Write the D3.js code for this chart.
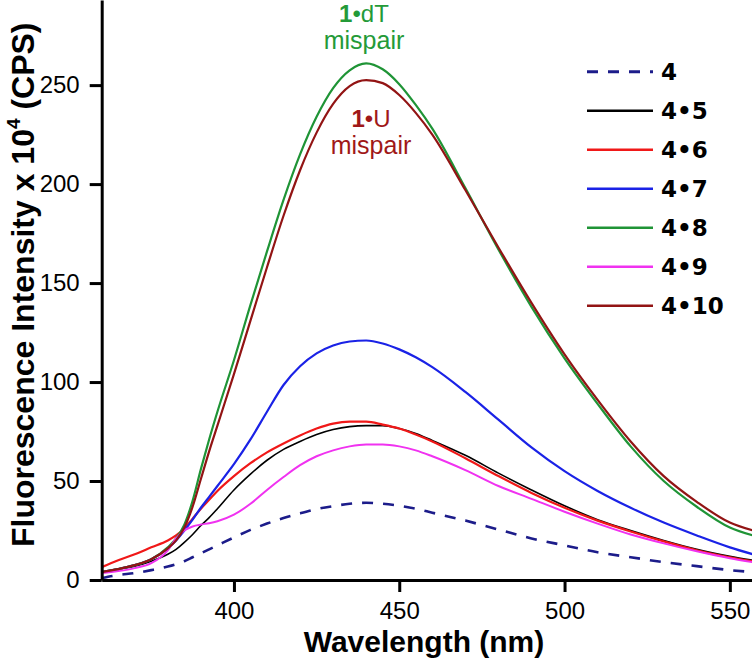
<!DOCTYPE html>
<html><head><meta charset="utf-8">
<script src="https://cdn.jsdelivr.net/npm/d3@7"></script>
<style>body{margin:0;background:#fff} svg{display:block}</style>
</head><body>
<svg id="c" width="752" height="659"></svg>
<script>
// ---- data ----
const wavelengths = [360,365,370,375,380,382.5,385,387.5,390,392.5,395,400,405,410,415,420,425,430,435,440,445,450,455,460,470,480,490,500,510,520,530,540,550,557];
const s4   = [1,2.5,3.5,5,6.8,8,9.5,11.5,13.5,15.5,17.5,21.5,25.3,28.5,31.3,33.7,35.8,37.3,38.5,39,38.5,37.5,36,34,30,25.5,21,17.5,14,11.5,9,7,5,4];
const s4_5 = [4,5.5,7,9.5,13,15.5,19,23,27.5,31.5,36,45.5,53.5,60.5,66,70,73.5,76,77.5,78,78,76.5,74,70.5,63,54,45.5,37.5,30.5,25,20,15.5,12,10];
const s4_6 = [6.5,10,13,16.5,20,22.5,26,31,36,40.5,45,52.5,59,64.5,69,73,76.5,79,80,80,78.5,76.5,73.5,70,61.5,52.5,44,36.5,30,24.5,19.5,15,11.5,9.5];
const s4_7 = [4,5.5,7.5,10.5,16,20,25,30.5,36.5,42,47.5,58.5,71,85,98.5,108,114.5,118.5,120.5,121,119.5,116.5,112.5,107.5,95,81,67,55,45,36.5,29,22.5,16.5,13];
const s4_8 = [4,5.5,7.5,10.5,16.5,21,28,40,56,71,85,111,139,166,192,215,234,248.5,257.5,261,258,250.5,240,228,198,167,138,112,89,67.5,50,37,26.5,22.5];
const s4_9 = [3.5,4.5,6,8.5,15,21,25,27,28,28.7,29.7,33,38.5,45.5,52,58,62.5,65.5,67.5,68.5,68.5,67.5,65.5,62.5,55.5,47.5,41,34.5,28.5,23,18.5,14.5,11,9];
const s4_10= [4,5.5,7.5,10.5,16,20,26.5,37,51,65,78,104,131,158,184,207,226,240.5,249.5,252.5,251,245,236,225,197,168,140,114,91,70,52.5,39.5,29,25];
const seriesNames = ["4","4•5","4•6","4•7","4•8","4•9","4•10"];
const seriesValues = [s4,s4_5,s4_6,s4_7,s4_8,s4_9,s4_10];
const xTicks = [400,450,500,550];
const yTicks = [0,50,100,150,200,250];
const xTitle = "Wavelength (nm)";

// ---- styles ----
const colors = ["#1c1c8a","#000000","#f01818","#1a22e6","#1f9436","#f032f0","#921414"];
const dashes = ["11,10",null,null,null,null,null,null];
const widths = [2.6,1.6,2.2,2.2,2.2,2,2.2];

const svg = d3.select("#c");
const x = d3.scaleLinear().domain([360,556.7]).range([101.7,752]);
const y = d3.scaleLinear().domain([0,293]).range([580,0]);

svg.append("defs").append("clipPath").attr("id","clip")
  .append("rect").attr("x",x(360)).attr("y",0).attr("width",752-x(360)).attr("height",y(0));

const line = d3.line().x(d=>x(d[0])).y(d=>y(d[1])).curve(d3.curveMonotoneX);
const g = svg.append("g").attr("clip-path","url(#clip)");
seriesValues.forEach((vals,i)=>{
  g.append("path").datum(wavelengths.map((w,j)=>[w,vals[j]]))
    .attr("d",line).attr("fill","none").attr("stroke",colors[i])
    .attr("stroke-width",widths[i]).attr("stroke-dasharray",dashes[i])
    .attr("stroke-linejoin","round");
});

// axes
const font = "'Liberation Sans', Arial, sans-serif";
const xa = svg.append("g").attr("transform",`translate(0,${y(0)})`)
  .call(d3.axisBottom(x).tickValues(xTicks).tickSize(12).tickSizeOuter(0).tickPadding(10));
const ya = svg.append("g").attr("transform",`translate(${x(360)},0)`)
  .call(d3.axisLeft(y).tickValues(yTicks).tickSize(12).tickSizeOuter(0).tickPadding(10));
[xa,ya].forEach(a=>{
  a.select(".domain").attr("stroke","#000").attr("stroke-width",3);
  a.selectAll(".tick line").attr("stroke","#000").attr("stroke-width",3);
  a.selectAll(".tick text").attr("fill","#000").style("font-family",font).style("font-size","24px");
});

// axis titles
svg.append("text").attr("x",424).attr("y",652).attr("text-anchor","middle")
  .style("font-family",font).style("font-size","30px").style("font-weight","bold").text(xTitle);
const yt = svg.append("text").attr("transform","translate(34,547) rotate(-90)")
  .style("font-family",font).style("font-size","32px").style("font-weight","bold");
yt.append("tspan").text("Fluorescence Intensity x 10");
yt.append("tspan").attr("dy",-14).style("font-size","19px").text("4");
yt.append("tspan").attr("dy",14).text(" (CPS)");

// legend
const legFont = "'DejaVu Sans', Verdana, sans-serif";
const leg = svg.append("g");
seriesNames.forEach((n,i)=>{
  const cy = 71.7 + i*39;
  leg.append("line").attr("x1",587).attr("x2",653).attr("y1",cy).attr("y2",cy)
    .attr("stroke",colors[i]).attr("stroke-width",i===0?3:2.4).attr("stroke-dasharray",dashes[i]);
  leg.append("text").attr("x",661).attr("y",cy).attr("dy","0.36em")
    .style("font-family",legFont).style("font-size","23px").style("font-weight","bold").text(n);
});

// annotations
function annot(cx, by, col, num, rest){
  const t = svg.append("text").attr("x",cx).attr("y",by).attr("text-anchor","middle")
    .attr("fill",col).style("font-family",font).style("font-size","24px");
  t.append("tspan").style("font-weight","bold").text(num);
  t.append("tspan").text(rest);
  svg.append("text").attr("x",cx).attr("y",by+27).attr("text-anchor","middle")
    .attr("fill",col).style("font-family",font).style("font-size","25px").text("mispair");
}
annot(364, 22, "#249a38", "1", "•dT");
annot(371, 127, "#a01818", "1", "•U");
</script>
</body></html>
